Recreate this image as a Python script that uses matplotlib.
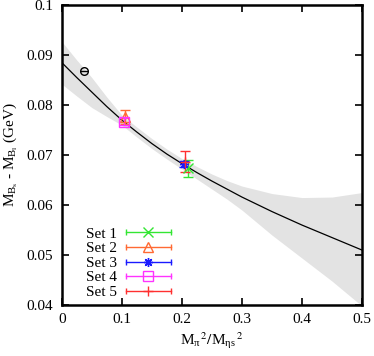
import matplotlib
matplotlib.use("Agg")
import matplotlib.pyplot as plt
from matplotlib.lines import Line2D
from matplotlib.legend_handler import HandlerBase

plt.rcParams["font.family"] = "Liberation Serif"
plt.rcParams["mathtext.fontset"] = "stix"

# fit curve and error band
fit_x = [0.0, 0.025, 0.05, 0.075, 0.10, 0.125, 0.15, 0.175, 0.20, 0.225, 0.25,
         0.275, 0.30, 0.35, 0.40, 0.45, 0.50]
fit_y = [0.0885, 0.0855, 0.0826, 0.0797, 0.0770, 0.0746, 0.0723, 0.0702, 0.0683,
         0.0665, 0.0648, 0.0632, 0.0616, 0.0587, 0.0560, 0.0535, 0.0510]
band_hi = [0.0927, 0.0890, 0.0855, 0.0816, 0.0780, 0.0756, 0.0733, 0.0712, 0.0693,
           0.0677, 0.0662, 0.0649, 0.0638, 0.0623, 0.0615, 0.0616, 0.0625]
band_lo = [0.0842, 0.0818, 0.0795, 0.0777, 0.0760, 0.0736, 0.0713, 0.0692, 0.0672,
           0.0652, 0.0632, 0.0612, 0.0590, 0.0540, 0.0494, 0.0448, 0.0398]

# lattice sets
set_names = ["Set 1", "Set 2", "Set 3", "Set 4", "Set 5"]
set_x = [0.210, 0.1055, 0.203, 0.104, 0.2045]
set_y = [0.0674, 0.0777, 0.0683, 0.0767, 0.0687]
set_err = [0.0017, 0.0014, 0.0006, 0.0007, 0.0021]
set_colors = ["#33e633", "#ff6a33", "#1a1aff", "#ff33ff", "#ff3030"]
set_markers = ["x", "^", (8, 2, 0), "s", "+"]

# physical point
phys_x = [0.0377]
phys_y = [0.0869]


class HErrHandler(HandlerBase):
    def create_artists(self, legend, orig, xdescent, ydescent, width, height,
                       fontsize, trans):
        y = height / 2 - ydescent
        x0, x1 = -xdescent, width - xdescent
        c = orig.get_color()
        line = Line2D([x0, x1], [y, y], color=c, lw=1.0)
        caps = Line2D([x0, x1], [y, y], ls="none", marker="|", ms=5, mew=1.0, color=c)
        mk = Line2D([(x0 + x1) / 2], [y], ls="none", marker=orig.get_marker(),
                    ms=orig.get_markersize(), mew=1.0, mfc="none", color=c)
        for a in (line, caps, mk):
            a.set_transform(trans)
        return [line, caps, mk]


fig = plt.figure(figsize=(3.74, 3.56), dpi=100)
ax = fig.add_axes([0.165, 0.143, 0.803, 0.843])

ax.fill_between(fit_x, band_lo, band_hi, color="#e3e3e3", lw=0, zorder=1)
ax.plot(fit_x, fit_y, color="black", lw=0.9, zorder=2)

handles = []
for name, x, y, e, c, m in zip(set_names, set_x, set_y, set_err, set_colors, set_markers):
    ax.errorbar([x], [y], yerr=[e], fmt="none", ecolor=c, elinewidth=1.0,
                capsize=3.5, capthick=1.0, zorder=3)
    ax.plot([x], [y], ls="none", marker=m, ms=6.5, mew=1.0, mfc="none", color=c, zorder=4)
    handles.append(Line2D([], [], color=c, marker=m, ms=6.5, label=name))

ax.plot(phys_x, phys_y, ls="none", marker="o", ms=5.5, mfc="none", mec="black", mew=1.0, zorder=4)
ax.plot(phys_x, phys_y, ls="none", marker="_", ms=5.5, mec="black", mew=1.0, zorder=4)

ax.set_xlim(0, 0.5)
ax.set_ylim(0.04, 0.1)
ax.set_xticks([0, 0.1, 0.2, 0.3, 0.4, 0.5])
ax.set_yticks([0.04, 0.05, 0.06, 0.07, 0.08, 0.09, 0.1])
ax.set_xticklabels(["0", "0.1", "0.2", "0.3", "0.4", "0.5"])
ax.set_yticklabels(["0.04", "0.05", "0.06", "0.07", "0.08", "0.09", "0.1"])
ax.tick_params(direction="in", top=True, right=True, length=5, width=1.2,
               labelsize=11, pad=6)
for s in ax.spines.values():
    s.set_linewidth(1.8)

ax.set_xlabel(r"$\mathregular{M_{\pi}}^{\,2}/\mathregular{M_{\eta s}}^{\,2}$", fontsize=11, labelpad=3)
ax.set_ylabel(r"$\mathregular{M_{B_s}}$ - $\mathregular{M_{B_l}}$ (GeV)", fontsize=11, labelpad=5)

ax.legend(handles=handles, handler_map={Line2D: HErrHandler()}, loc="lower left",
          bbox_to_anchor=(0.08, 0.02), frameon=False, markerfirst=False,
          fontsize=11, handlelength=2.95, handletextpad=0.6, labelspacing=0.06,
          borderpad=0, borderaxespad=0)

fig.savefig("out.png", dpi=100)
